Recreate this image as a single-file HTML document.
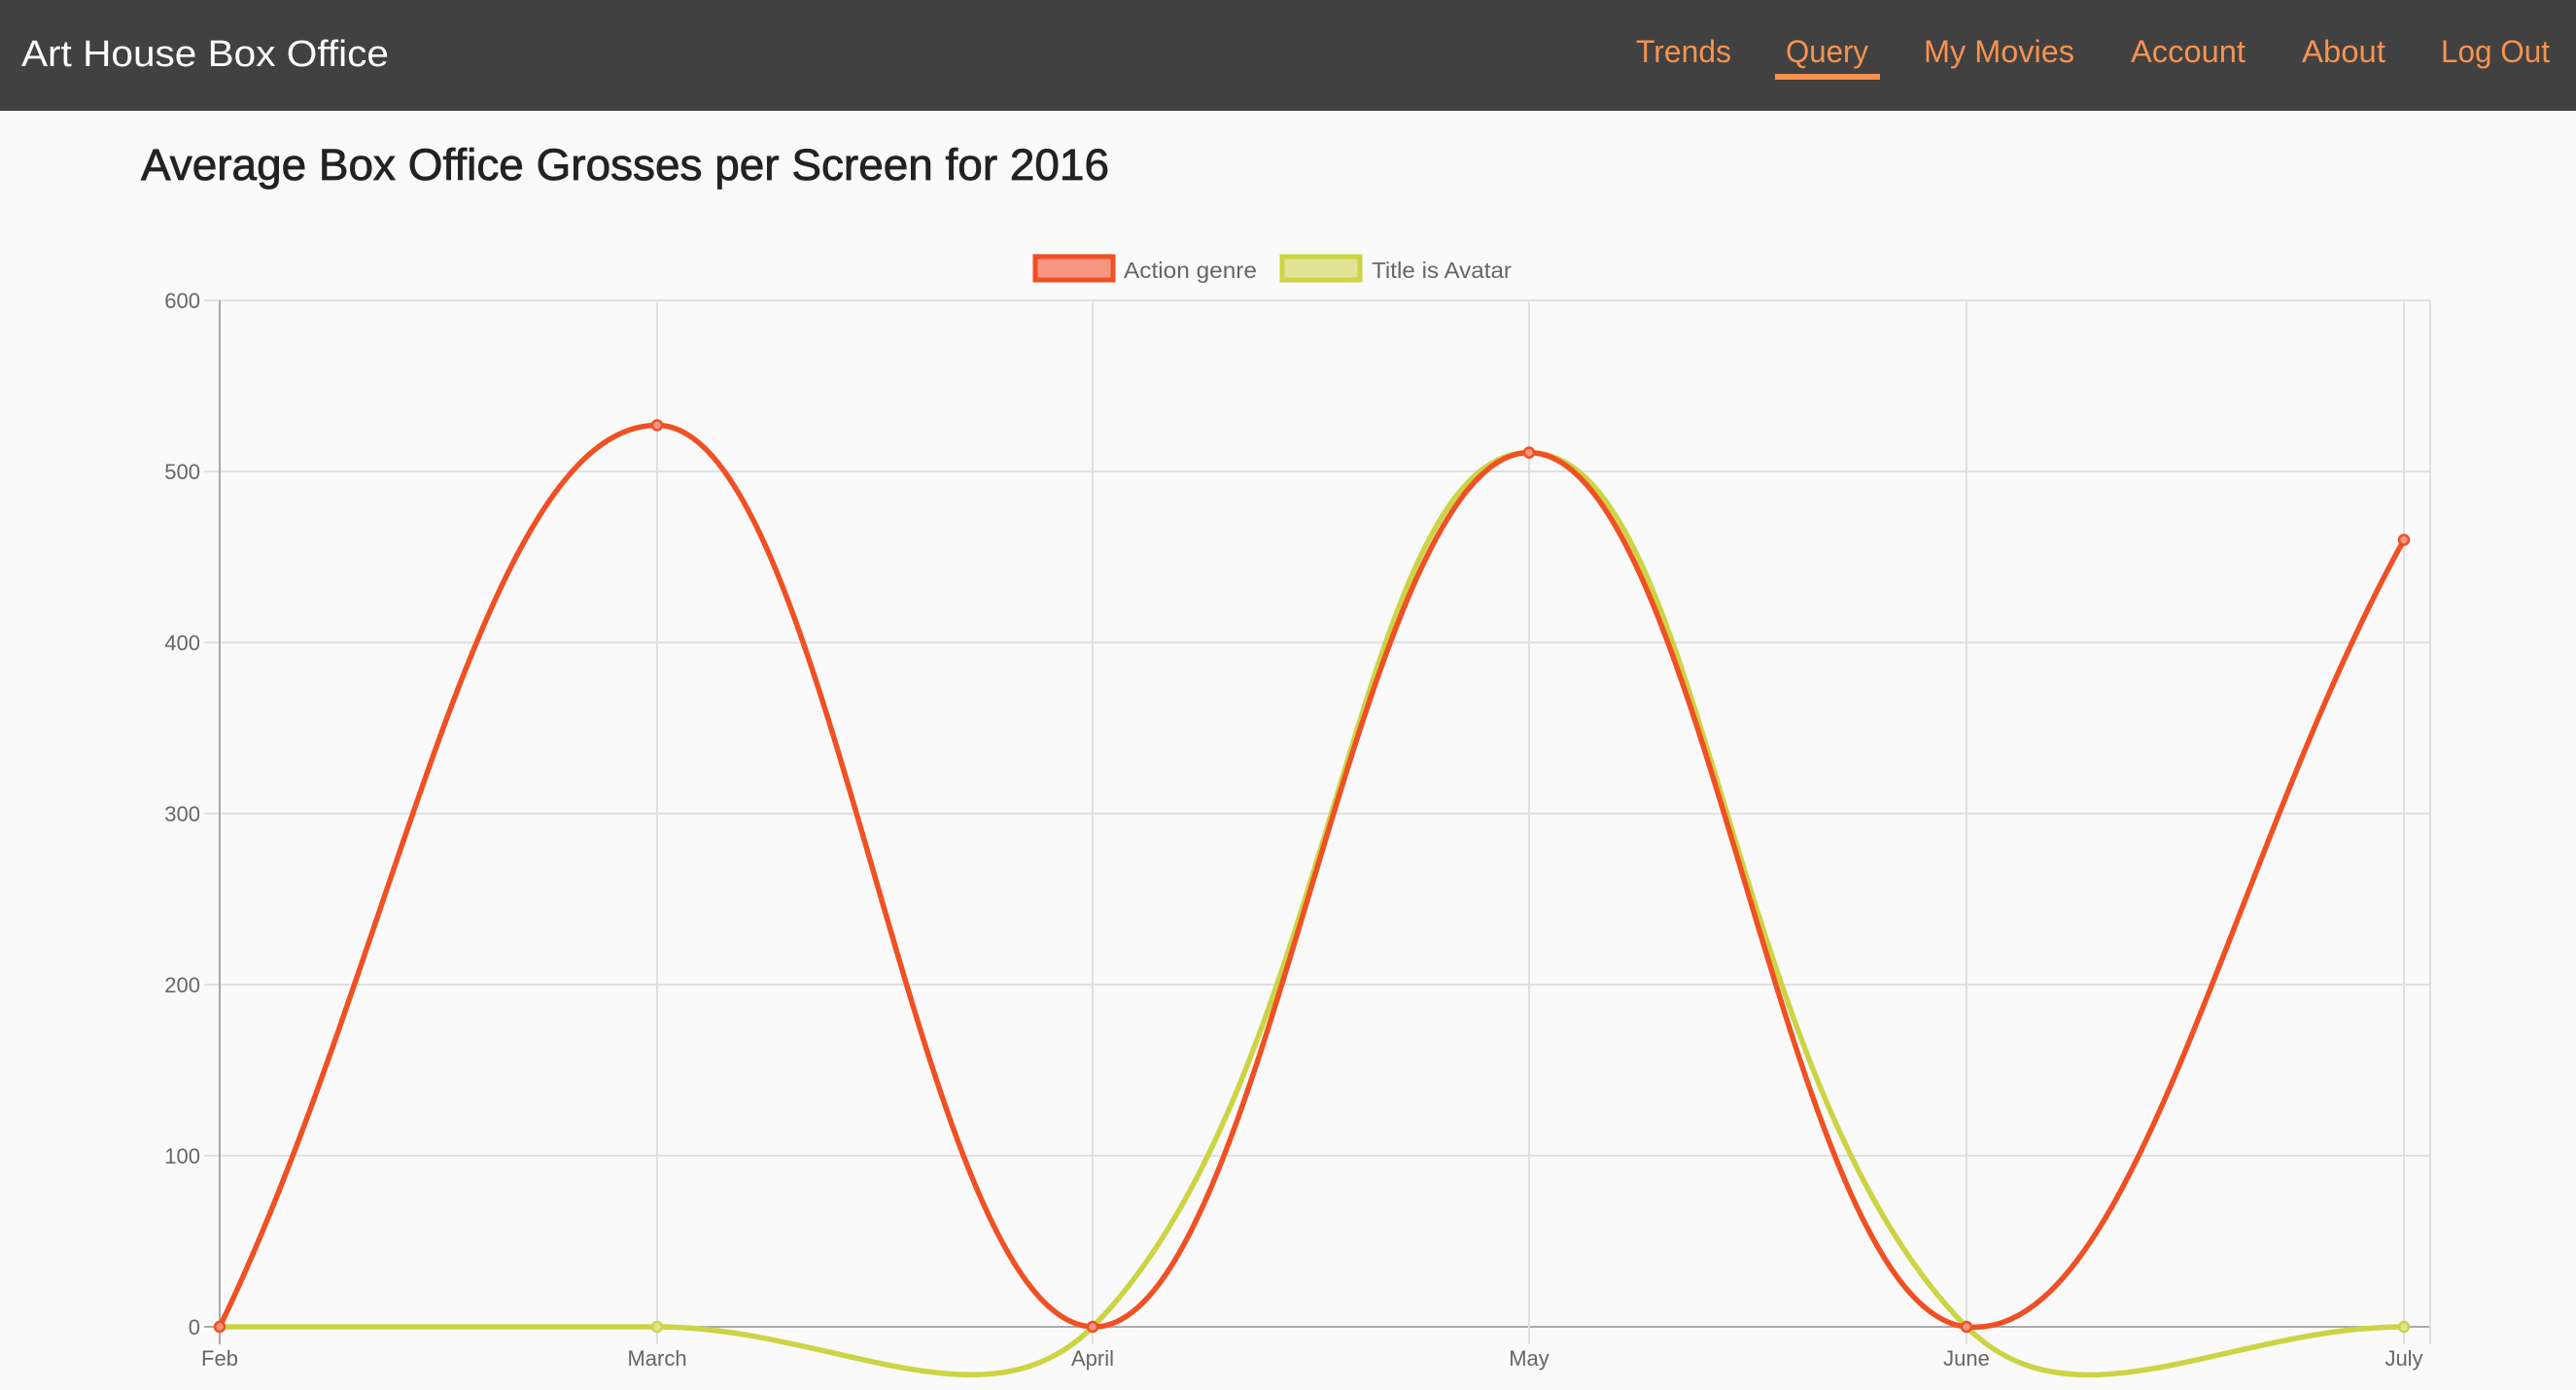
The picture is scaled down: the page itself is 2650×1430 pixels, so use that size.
<!DOCTYPE html>
<html><head><meta charset="utf-8"><style>
html,body{margin:0;padding:0;background:#fafafa;width:2650px;height:1430px;overflow:hidden}
svg{display:block}
text{font-family:"Liberation Sans",sans-serif}
</style></head><body>
<svg id="s" width="2650" height="1430" xmlns="http://www.w3.org/2000/svg">
<rect width="2650" height="1430" fill="#fafafa"/>
<rect width="2650" height="114" fill="#414141"/>
<text x="22" y="68" font-size="38" fill="#fff" textLength="378" lengthAdjust="spacingAndGlyphs">Art House Box Office</text>
<g font-size="32" fill="#f79250">
<text x="1683" y="64" textLength="98" lengthAdjust="spacingAndGlyphs">Trends</text>
<text x="1837" y="64" textLength="85" lengthAdjust="spacingAndGlyphs">Query</text>
<text x="1979" y="64" textLength="155" lengthAdjust="spacingAndGlyphs">My Movies</text>
<text x="2192" y="64" textLength="118" lengthAdjust="spacingAndGlyphs">Account</text>
<text x="2368" y="64" textLength="86" lengthAdjust="spacingAndGlyphs">About</text>
<text x="2511" y="64" textLength="112" lengthAdjust="spacingAndGlyphs">Log Out</text>
</g>
<rect x="1826" y="76" width="108" height="6" fill="#f79250"/>
<text x="145" y="185" font-size="45" fill="#222" stroke="#222" stroke-width="0.8" textLength="996" lengthAdjust="spacingAndGlyphs">Average Box Office Grosses per Screen for 2016</text>
<rect x="1065" y="264" width="80" height="24" fill="#f69581" stroke="#f05023" stroke-width="5"/>
<text x="1156" y="286" font-size="23" fill="#666" textLength="137" lengthAdjust="spacingAndGlyphs">Action genre</text>
<rect x="1319" y="264" width="80" height="24" fill="#e0e494" stroke="#ccd444" stroke-width="5"/>
<text x="1411" y="286" font-size="23" fill="#666" textLength="144" lengthAdjust="spacingAndGlyphs">Title is Avatar</text>
<g id="grid"></g>
<g id="lines"></g>
</svg>
<script>
(function(){
var NS="http://www.w3.org/2000/svg";
function el(p,t,a){var e=document.createElementNS(NS,t);for(var k in a)e.setAttribute(k,a[k]);p.appendChild(e);return e;}
var g=document.getElementById('grid'),L=document.getElementById('lines');
var xs=[226,676,1124,1573,2023,2473],labs=["Feb","March","April","May","June","July"];
var y0=1365,py=176,ptop=309,right=2500;
function Y(v){return y0-v*py/100;}
for(var i=0;i<=6;i++){var y=Y(i*100);
 el(g,'line',{x1:210,x2:right,y1:y,y2:y,stroke:i==0?'#aaa':'#e0e0e0','stroke-width':2});
 var t=el(g,'text',{x:206,y:y+8,'font-size':22,fill:'#666','text-anchor':'end'});t.textContent=i*100;}
for(var i=0;i<6;i++){
 el(g,'line',{x1:xs[i],x2:xs[i],y1:ptop,y2:1383,stroke:i==0?'#aaa':'#e0e0e0','stroke-width':2});
 var t=el(g,'text',{x:xs[i],y:1405,'font-size':22,fill:'#666','text-anchor':'middle'});t.textContent=labs[i];}
el(g,'line',{x1:right,x2:right,y1:ptop,y2:1383,stroke:'#e0e0e0','stroke-width':2});
function path(vals){var P=vals.map(function(v,i){return[xs[i],Y(v)]});var c=[];
 for(var i=0;i<P.length;i++){var pr=P[Math.max(0,i-1)],cu=P[i],nx=P[Math.min(P.length-1,i+1)];
  var d01=Math.hypot(cu[0]-pr[0],cu[1]-pr[1]),d12=Math.hypot(nx[0]-cu[0],nx[1]-cu[1]);
  var s01=d01/(d01+d12)||0,s12=d12/(d01+d12)||0,fa=.4*s01,fb=.4*s12;
  c.push({p:[cu[0]-fa*(nx[0]-pr[0]),cu[1]-fa*(nx[1]-pr[1])],n:[cu[0]+fb*(nx[0]-pr[0]),cu[1]+fb*(nx[1]-pr[1])]});}
 var d="M"+P[0];for(var i=1;i<P.length;i++)d+=" C"+c[i-1].n+" "+c[i].p+" "+P[i];return{d:d,P:P};}
function series(vals,col,fill){var r=path(vals);
 el(L,'path',{d:r.d,fill:'none',stroke:col,'stroke-width':5.5});
 r.P.forEach(function(p){el(L,'circle',{cx:p[0],cy:p[1],r:5,fill:fill,stroke:col,'stroke-width':2.5});});}
series([0,0,0,511,0,0],'#ccd444','#e0e494');
series([0,527,0,511,0,460],'#f05023','#f69581');
})();
</script>
</body></html>
